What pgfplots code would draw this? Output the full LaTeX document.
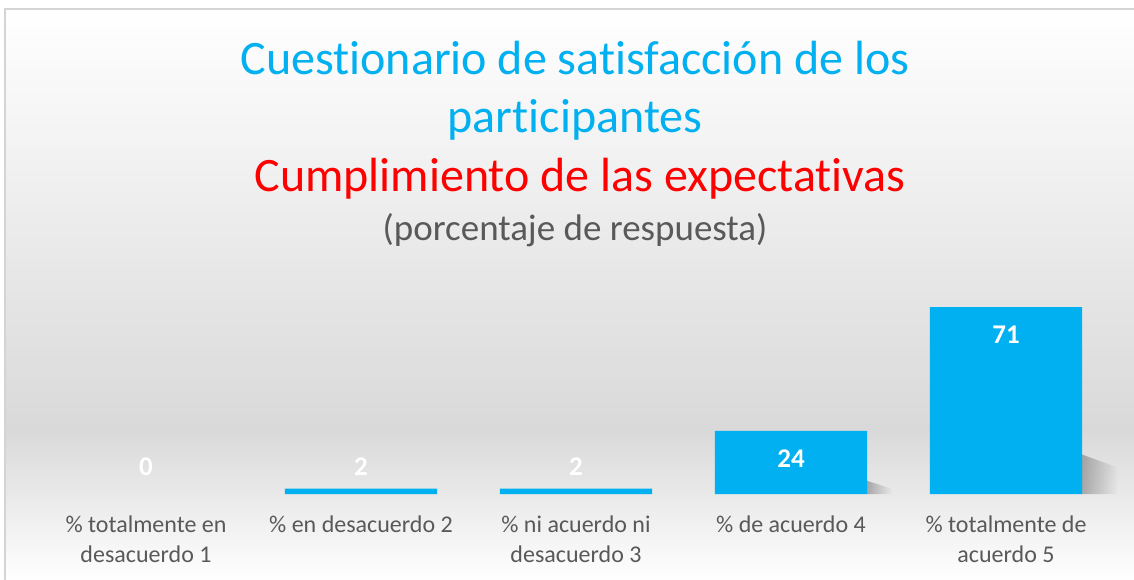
\documentclass[border=0pt]{standalone}
\usepackage{pgfplots}
\pgfplotsset{compat=1.18}
\usetikzlibrary{fadings}
\usepackage{fontspec}
\setmainfont{Carlito}[Ligatures=NoCommon]
\definecolor{barblue}{HTML}{00B0F0}
\definecolor{txtgrey}{HTML}{595959}
\definecolor{bggrey}{HTML}{D9D9D9}
\definecolor{framegrey}{HTML}{D4D4D4}
\begin{document}
\begin{tikzpicture}[x=1pt,y=1pt]
\useasboundingbox (0,0) rectangle (1134,579);
\fill[white] (0,0) rectangle (1134,579);
% background gradient
\shade[top color=white, bottom color=bggrey] (5,150) rectangle (1140,570);
\shade[top color=bggrey, bottom color=white] (5,-2) rectangle (1140,150);
\draw[framegrey, line width=1.2pt] (5,-5) -- (5,570) -- (1140,570);
% titles
\node[anchor=base, inner sep=0pt, text=barblue, font=\fontsize{48}{56}\selectfont] at (575,504) {Cuestionario de satisfacción de los};
\node[anchor=base, inner sep=0pt, text=barblue, font=\fontsize{48}{56}\selectfont] at (575,446) {participantes};
\node[anchor=base, inner sep=0pt, text=red, font=\fontsize{48}{56}\selectfont] at (580,387) {Cumplimiento de las expectativas};
\node[anchor=base, inner sep=0pt, text=txtgrey, font=\fontsize{37}{42}\selectfont] at (575,338) {(porcentaje de respuesta)};
\begin{axis}[
  at={(38.5pt,85pt)}, anchor=south west,
  scale only axis, width=1075pt, height=210.7pt,
  xmin=-0.5, xmax=4.5, ymin=0, ymax=80,
  clip=false,
  axis y line=none,
  axis x line*=bottom,
  x axis line style={draw=none},
  xtick={0,1,2,3,4},
  major tick length=0pt,
  xticklabels={{\% totalmente en\\desacuerdo 1},{\% en desacuerdo 2},{\% ni acuerdo ni\\desacuerdo 3},{\% de acuerdo 4},{\% totalmente de\\acuerdo 5}},
  xticklabel style={font=\fontsize{24}{30}\selectfont, text=txtgrey, align=center, anchor=north, yshift=-18pt},
]
% soft shadows behind the two tall bars
\fill[gray!70!black, opacity=0.45, path fading=east]
  (axis cs:3.3535,0) -- (axis cs:3.47,0) -- (axis cs:3.47,2) -- (axis cs:3.3535,5) -- cycle;
\fill[gray!70!black, opacity=0.45, path fading=east]
  (axis cs:4.3535,0) -- (axis cs:4.52,0) -- (axis cs:4.52,10) -- (axis cs:4.3535,15) -- cycle;
\addplot[ybar, bar width=152pt, fill=barblue, draw=none,
  y filter/.expression={y==0 ? nan : y}] coordinates {
  (0,0) (1,2) (2,2) (3,24) (4,71)
};
\addplot[draw=none, nodes near coords, point meta=explicit symbolic,
  nodes near coords style={anchor=base, inner sep=0pt, text=white, font=\bfseries\fontsize{27}{27}\selectfont}]
  coordinates {
  (0,7.2)[0] (1,7.2)[2] (2,7.2)[2] (3,10.25)[24] (4,57.3)[71]
};
\end{axis}
\end{tikzpicture}
\end{document}
